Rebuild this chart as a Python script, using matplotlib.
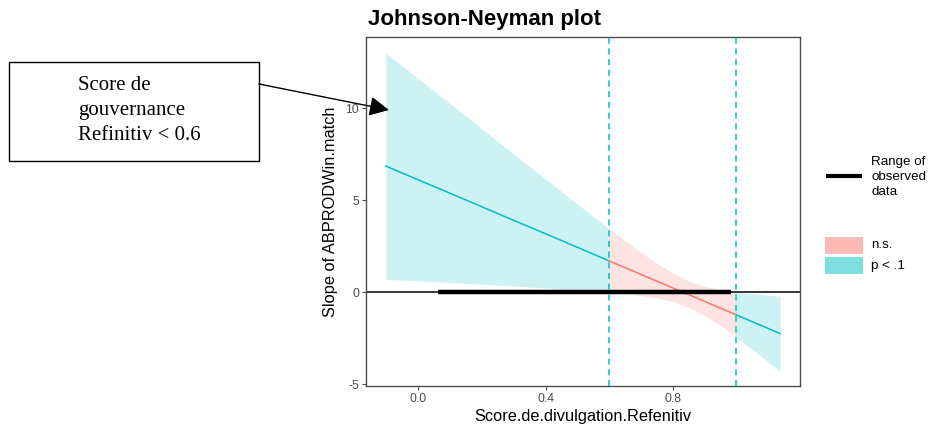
import matplotlib
matplotlib.use("Agg")
import matplotlib.pyplot as plt
from matplotlib.patches import Rectangle, FancyArrowPatch
from matplotlib.lines import Line2D
import numpy as np

plt.rcParams['font.family'] = ['Liberation Sans', 'DejaVu Sans']

# ---- data ----
x_vals = [-0.1, 0.0, 0.1, 0.2, 0.3, 0.4, 0.5, 0.597, 0.65, 0.7, 0.75, 0.8,
          0.85, 0.9, 0.95, 0.997, 1.05, 1.134]
slope_est = [6.85, 6.11, 5.38, 4.64, 3.90, 3.17, 2.43, 1.71, 1.32, 0.95, 0.58,
             0.21, -0.15, -0.52, -0.89, -1.24, -1.63, -2.25]
ci_upper = [13.0, 11.62, 10.25, 8.88, 7.50, 6.14, 4.78, 3.46, 2.78, 2.14, 1.55,
            1.02, 0.58, 0.30, 0.12, 0.0, -0.10, -0.22]
ci_lower = [0.69, 0.62, 0.53, 0.43, 0.33, 0.22, 0.10, 0.0, -0.09, -0.19, -0.32,
            -0.52, -0.85, -1.30, -1.85, -2.45, -3.15, -4.30]
jn_bounds = [0.597, 0.997]
observed_range = [0.0625, 0.98]
x_ticks = [0.0, 0.4, 0.8]
x_tick_labels = ["0.0", "0.4", "0.8"]
y_ticks = [-5, 0, 5, 10]
y_tick_labels = ["-5", "0", "5", "10"]
legend_sig = ["n.s.", "p < .1"]

col_ns = "#F8766D"
col_sig = "#00BFC4"

x = np.array(x_vals)
est = np.array(slope_est)
up = np.array(ci_upper)
lo = np.array(ci_lower)

W, H = 930, 425
fig = plt.figure(figsize=(W / 100, H / 100), dpi=100)
ax = fig.add_axes([366 / W, 1 - 386 / H, (800 - 366) / W, (386 - 37) / H])

segments = [
    (x <= jn_bounds[0] + 1e-9, col_sig),
    ((x >= jn_bounds[0] - 1e-9) & (x <= jn_bounds[1] + 1e-9), col_ns),
    (x >= jn_bounds[1] - 1e-9, col_sig),
]
for mask, c in segments:
    ax.fill_between(x[mask], lo[mask], up[mask], color=c, alpha=0.2, lw=0, zorder=1)
for mask, c in segments:
    ax.plot(x[mask], est[mask], color=c, lw=1.1, zorder=3)

ax.axhline(0, color="black", lw=1.1, zorder=2)
ax.plot(observed_range, [0, 0], color="black", lw=3.2, solid_capstyle="butt", zorder=4)
for b in jn_bounds:
    ax.axvline(b, color=col_sig, lw=1.1, ls=(0, (4, 3)), zorder=5)

ax.set_xlim(-0.162, 1.196)
ax.set_ylim(-5.1, 13.86)
ax.set_xticks(x_ticks)
ax.set_xticklabels(x_tick_labels)
ax.set_yticks(y_ticks)
ax.set_yticklabels(y_tick_labels)
ax.tick_params(axis="both", colors="#4D4D4D", labelsize=8.8, length=3, width=0.8,
               labelcolor="#4D4D4D", pad=2)
for s in ax.spines.values():
    s.set_color("#4D4D4D")
    s.set_linewidth(1.0)

ax.set_xlabel("Score.de.divulgation.Refenitiv", fontsize=11.8, labelpad=3)
ax.set_ylabel("Slope of ABPRODWin.match", fontsize=11.8, labelpad=5)
fig.text(368 / W, 1 - 20 / H, "Johnson-Neyman plot", fontsize=16, fontweight="bold",
         ha="left", va="center")

# ---- legends (drawn in figure pixel space) ----
def fx(px):
    return px / W

def fy(py):
    return 1 - py / H

fig.add_artist(Line2D([fx(828), fx(860)], [fy(176), fy(176)], color="black", lw=3.0,
                      transform=fig.transFigure))
for t, py in zip(["Range of", "observed", "data"], [162, 177, 192]):
    fig.text(fx(871), fy(py), t, fontsize=9.6, ha="left", va="center")

for i, (lab, c) in enumerate(zip(legend_sig, [col_ns, col_sig])):
    top = 237 + i * 20
    fig.add_artist(Rectangle((fx(825), fy(top + 17)), fx(38), 17 / H, facecolor=c,
                             alpha=0.5, lw=0, transform=fig.transFigure))
    fig.text(fx(871), fy(top + 8.5), lab, fontsize=9.6, ha="left", va="center")

# ---- annotation box with arrow ----
fig.add_artist(Rectangle((fx(9), fy(161)), fx(250), 99 / H, facecolor="white",
                         edgecolor="black", lw=1.0, transform=fig.transFigure))
fig.text(fx(78), fy(85), "Score de", fontsize=15, family="Liberation Serif",
         ha="left", va="center")
fig.text(fx(78), fy(110), "gouvernance", fontsize=15, family="Liberation Serif",
         ha="left", va="center")
fig.text(fx(78), fy(135), "Refinitiv < 0.6", fontsize=15, family="Liberation Serif",
         ha="left", va="center")
arrow = FancyArrowPatch((fx(259), fy(84)), (fx(389), fy(110)),
                        transform=fig.transFigure,
                        arrowstyle="-|>,head_length=12,head_width=6",
                        color="black", lw=1.0, mutation_scale=1,
                        shrinkA=0, shrinkB=0)
fig.add_artist(arrow)

fig.savefig("out.png", dpi=100)
